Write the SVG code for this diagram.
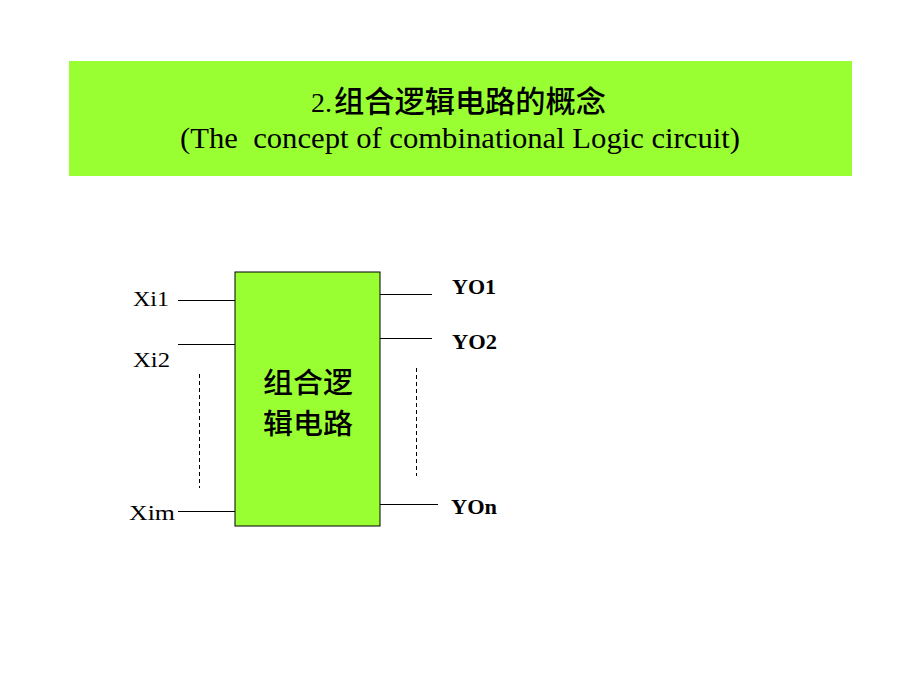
<svg xmlns="http://www.w3.org/2000/svg" width="920" height="690" viewBox="0 0 920 690">
<style>
.ser{font-family:"Liberation Serif","Noto Sans CJK SC",serif;fill:#000}
.cjk{font-family:"Noto Sans CJK SC",sans-serif;fill:#000;font-weight:500}
.ln{stroke:#000;stroke-width:1;fill:none}
.dash{stroke:#000;stroke-width:1;stroke-dasharray:4,3;fill:none}
</style>
<rect width="920" height="690" fill="#fff"/>
<g id="title">
<rect x="69" y="61" width="783" height="115" fill="#99ff33"/>
<text x="311" y="112" class="ser" font-size="28">2.<tspan class="cjk" font-size="30" x="334" textLength="272" lengthAdjust="spacingAndGlyphs">组合逻辑电路的概念</tspan></text>
<text x="180" y="148" class="ser" font-size="29" xml:space="preserve" textLength="560" lengthAdjust="spacingAndGlyphs">(The  concept of combinational Logic circuit)</text>
</g>
<g id="block">
<rect x="235" y="272" width="145" height="254" fill="#99ff33" stroke="#000" stroke-width="1"/>
<text x="308" y="393" text-anchor="middle" class="cjk" font-size="28" textLength="90" lengthAdjust="spacingAndGlyphs">组合逻</text>
<text x="308" y="434" text-anchor="middle" class="cjk" font-size="28" textLength="90" lengthAdjust="spacingAndGlyphs">辑电路</text>
</g>
<g id="connectors">
<line class="ln" x1="178" y1="300.5" x2="235" y2="300.5"/>
<line class="ln" x1="178" y1="344.5" x2="235" y2="344.5"/>
<line class="ln" x1="178" y1="511.5" x2="235" y2="511.5"/>
<line class="ln" x1="380" y1="294.5" x2="432" y2="294.5"/>
<line class="ln" x1="380" y1="338.5" x2="432" y2="338.5"/>
<line class="ln" x1="380" y1="504.5" x2="438" y2="504.5"/>
<line class="dash" x1="199.5" y1="374" x2="199.5" y2="488"/>
<line class="dash" x1="416.5" y1="368" x2="416.5" y2="476"/>
</g>
<g id="labels">
<text x="133" y="306" class="ser" font-size="21" textLength="36" lengthAdjust="spacingAndGlyphs">Xi1</text>
<text x="133" y="367" class="ser" font-size="21" textLength="37" lengthAdjust="spacingAndGlyphs">Xi2</text>
<text x="129" y="520" class="ser" font-size="21" textLength="46" lengthAdjust="spacingAndGlyphs">Xim</text>
<text x="452" y="294" class="ser" font-size="20" font-weight="bold" textLength="44" lengthAdjust="spacingAndGlyphs">YO1</text>
<text x="452" y="349" class="ser" font-size="20" font-weight="bold" textLength="45" lengthAdjust="spacingAndGlyphs">YO2</text>
<text x="451" y="514" class="ser" font-size="20" font-weight="bold" textLength="46" lengthAdjust="spacingAndGlyphs">YOn</text>
</g>
</svg>
